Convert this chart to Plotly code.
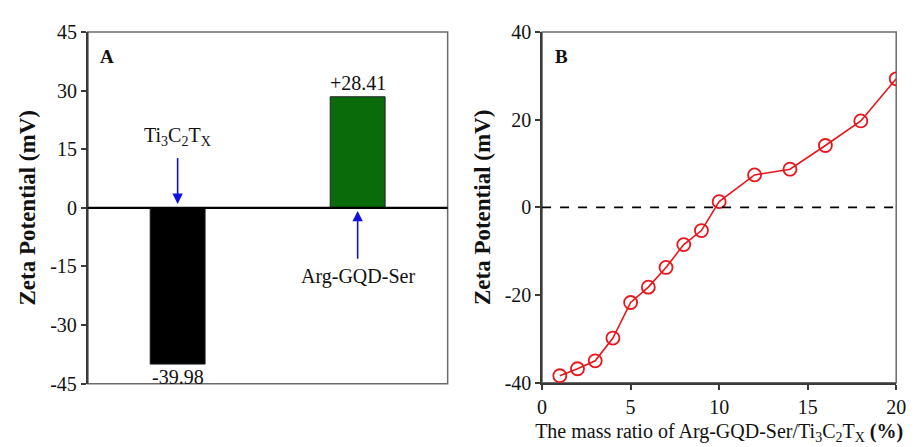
import plotly.graph_objects as go

# Panel A data
samples = ["Ti<sub>3</sub>C<sub>2</sub>T<sub>X</sub>", "Arg-GQD-Ser"]
sample_pos = [1, 3]
zeta_a = [-39.98, 28.41]
zeta_a_labels = ["-39.98", "+28.41"]
bar_colors = ["#000000", "#0a6b0a"]

# Panel B data
mass_ratio = [1, 2, 3, 4, 5, 6, 7, 8, 9, 10, 12, 14, 16, 18, 20]
zeta_b = [-38.4, -36.8, -35.0, -29.8, -21.7, -18.2, -13.7, -8.5, -5.3, 1.3,
          7.4, 8.7, 14.1, 19.7, 29.3]

yticks_a = [-45, -30, -15, 0, 15, 30, 45]
yticks_a_text = ["-45", "-30", "-15", "0", "15", "30", "45"]
yticks_b = [-40, -20, 0, 20, 40]
yticks_b_text = ["-40", "-20", "0", "20", "40"]
xticks_b = [0, 5, 10, 15, 20]

FONT = "Liberation Serif"
W, H = 919, 447

def px_x(p):
    return p / W

def px_y(p):
    return 1 - p / H

fig = go.Figure()

fig.add_trace(go.Bar(
    x=sample_pos, y=zeta_a, width=0.61,
    marker=dict(color=bar_colors, line=dict(color="#222222", width=1)),
    xaxis="x", yaxis="y", showlegend=False,
))

fig.add_trace(go.Scatter(
    x=mass_ratio, y=zeta_b, mode="lines+markers",
    line=dict(color="#e8161b", width=1.6),
    marker=dict(symbol="circle-open", size=13, color="#e8161b",
                line=dict(width=1.8, color="#e8161b")),
    xaxis="x2", yaxis="y2", showlegend=False,
))

axis_common = dict(
    showgrid=False, zeroline=False, showline=True, linecolor="#3a3a3a",
    linewidth=1.5, mirror=False,
    tickfont=dict(family=FONT, size=20, color="#111"),
)

fig.update_layout(
    width=W, height=H,
    margin=dict(l=0, r=0, t=0, b=0),
    paper_bgcolor="white", plot_bgcolor="white",
    font=dict(family=FONT, color="#111"),
    xaxis=dict(domain=[px_x(84), px_x(450)], range=[0, 4],
               showgrid=False, zeroline=False, showline=False,
               showticklabels=False, ticks=""),
    yaxis=dict(domain=[px_y(392), px_y(22)], range=[-45, 45],
               tickvals=yticks_a, ticktext=yticks_a_text,
               ticks="outside", ticklen=5, tickwidth=1.5,
               tickcolor="#3a3a3a",
               title=dict(text="<b>Zeta Potential (mV)</b>",
                          font=dict(family=FONT, size=23, color="#111"),
                          standoff=8),
               **axis_common),
    xaxis2=dict(domain=[px_x(546), px_x(906)], range=[0, 20],
                tickvals=xticks_b, ticks="outside", ticklen=5, tickwidth=1.5,
                tickcolor="#3a3a3a",
                title=dict(text="The mass ratio of Arg-GQD-Ser/Ti<sub>3</sub>C<sub>2</sub>T<sub>X</sub> <b>(%)</b>",
                           font=dict(family=FONT, size=20, color="#111"),
                           standoff=7),
                anchor="y2", **axis_common),
    yaxis2=dict(domain=[px_y(391), px_y(22)], range=[-40, 40],
                tickvals=yticks_b, ticktext=yticks_b_text,
                ticks="outside", ticklen=5, tickwidth=1.5,
                tickcolor="#3a3a3a", anchor="x2",
                title=dict(text="<b>Zeta Potential (mV)</b>",
                           font=dict(family=FONT, size=23, color="#111"),
                           standoff=8),
                **axis_common),
)

# frames
fig.add_shape(type="rect", xref="x domain", yref="y domain", x0=0, x1=1, y0=0, y1=1,
              line=dict(color="#6a6a6a", width=1.5), layer="below")
fig.add_shape(type="line", xref="x domain", yref="y domain", x0=0, x1=0, y0=0, y1=1,
              line=dict(color="#3a3a3a", width=1.5))
fig.add_shape(type="rect", xref="x2 domain", yref="y2 domain", x0=0, x1=1, y0=0, y1=1,
              line=dict(color="#6a6a6a", width=1.5), layer="below")

# zero line panel A
fig.add_shape(type="line", xref="x domain", yref="y", x0=0, x1=1, y0=0, y1=0,
              line=dict(color="#000", width=2.2))
# dashed zero line panel B
fig.add_shape(type="line", xref="x2 domain", yref="y2", x0=0, x1=1, y0=0, y1=0,
              line=dict(color="#000", width=1.8, dash="dash"))

ann = []
# panel letters
ann.append(dict(x=0.03, y=0.965, xref="x domain", yref="y domain", text="<b>A</b>",
                showarrow=False, xanchor="left", yanchor="top",
                font=dict(family=FONT, size=19, color="#111")))
ann.append(dict(x=0.03, y=0.965, xref="x2 domain", yref="y2 domain", text="<b>B</b>",
                showarrow=False, xanchor="left", yanchor="top",
                font=dict(family=FONT, size=19, color="#111")))

# value labels on bars
for xp, v, lab in zip(sample_pos, zeta_a, zeta_a_labels):
    ann.append(dict(x=xp, y=v, xref="x", yref="y", text=lab, showarrow=False,
                    yanchor="top" if v < 0 else "bottom", yshift=0 if v < 0 else 1,
                    font=dict(family=FONT, size=20, color="#111")))

# sample labels with arrows
ann.append(dict(x=sample_pos[0], y=18.2, xref="x", yref="y", text=samples[0],
                showarrow=False, font=dict(family=FONT, size=20, color="#111")))
ann.append(dict(x=sample_pos[0], y=1.0, ax=sample_pos[0], ay=13.1,
                xref="x", yref="y", axref="x", ayref="y", text="",
                showarrow=True, arrowhead=2, arrowsize=1.3, arrowwidth=1.6,
                arrowcolor="#1010e0"))
ann.append(dict(x=sample_pos[1], y=-17.5, xref="x", yref="y", text=samples[1],
                showarrow=False, font=dict(family=FONT, size=20, color="#111")))
ann.append(dict(x=sample_pos[1], y=-0.8, ax=sample_pos[1], ay=-13.4,
                xref="x", yref="y", axref="x", ayref="y", text="",
                showarrow=True, arrowhead=2, arrowsize=1.3, arrowwidth=1.6,
                arrowcolor="#1010e0"))

fig.update_layout(annotations=ann)

fig.write_html("out.html")
